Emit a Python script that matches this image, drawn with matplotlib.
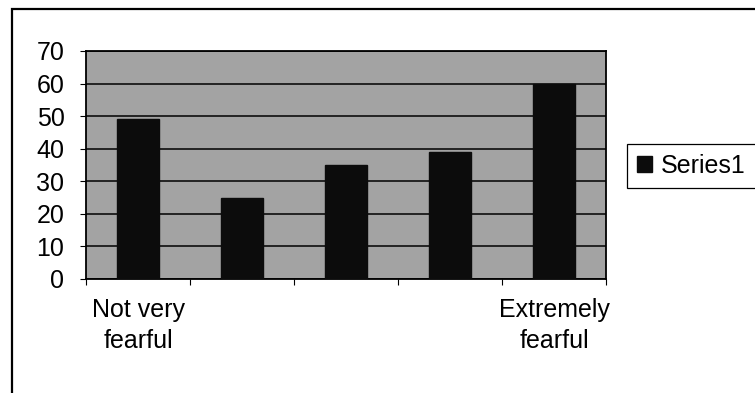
import numpy as np
import matplotlib
matplotlib.use("Agg")
import matplotlib.pyplot as plt
from matplotlib.patches import Rectangle

plt.rcParams['font.family'] = ['Liberation Sans', 'DejaVu Sans']

# data
categories = ["Not very\nfearful", "", "", "", "Extremely\nfearful"]
values = [49, 25, 35, 39, 60]
series_name = "Series1"
yticks = [0, 10, 20, 30, 40, 50, 60, 70]

W, H = 755, 393
fig = plt.figure(figsize=(W / 100, H / 100), dpi=100)
fig.patch.set_facecolor("white")

# outer chart frame (cropped on the right and bottom in the reference)
fig.add_artist(Rectangle((12 / W, -0.1), 1.2, 1.1 - 9 / H,
                         transform=fig.transFigure, fill=False,
                         edgecolor="black", linewidth=1.6, clip_on=False))

ax = fig.add_axes([86 / W, 1 - 279 / H, (606 - 86) / W, (279 - 51) / H])
ax.set_facecolor("#a3a3a3")

x = np.arange(len(values))
ax.bar(x, values, width=0.41, color="#0c0c0c", edgecolor="#0c0c0c",
       label=series_name, zorder=3)

ax.set_xlim(-0.5, len(values) - 0.5)
ax.set_ylim(0, 70)
ax.set_yticks(yticks)
ax.set_yticklabels([str(v) for v in yticks])
ax.yaxis.grid(True, color="black", linewidth=1.1, zorder=1)
ax.set_axisbelow(True)

ax.set_xticks(x)
ax.set_xticklabels(categories, linespacing=1.35)
ax.set_xticks(np.arange(len(values) + 1) - 0.5, minor=True)
ax.tick_params(axis="x", which="major", length=0, pad=14, labelsize=18)
ax.tick_params(axis="x", which="minor", length=4, width=0.8, direction="out")
ax.tick_params(axis="y", length=4.5, width=0.8, pad=11, labelsize=18)

for s in ax.spines.values():
    s.set_color("black")
    s.set_linewidth(1.3)

leg = fig.legend(loc="upper left", bbox_to_anchor=(627 / W, 1 - 144 / H),
                 borderaxespad=0, fancybox=False, edgecolor="black",
                 fontsize=18, handlelength=0.6, handleheight=0.6,
                 handletextpad=0.35, borderpad=0.4, framealpha=1)
leg.get_frame().set_linewidth(0.9)

fig.savefig("out.png", dpi=100)
